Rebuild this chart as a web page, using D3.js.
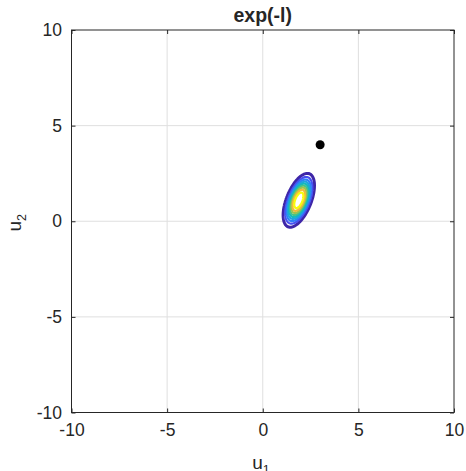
<!DOCTYPE html>
<html>
<head>
<meta charset="utf-8">
<script src="https://cdn.jsdelivr.net/npm/d3@7"></script>
<style>
  body { margin: 0; background: #fff; }
  text { font-family: "Liberation Sans", Arial, Helvetica, sans-serif; fill: #262626; }
</style>
</head>
<body>
<script>
// axis ticks
var xTicks = [-10, -5, 0, 5, 10];
var yTicks = [-10, -5, 0, 5, 10];
var xDomain = [-10, 10];
var yDomain = [-10, 10];

// exp(-l) bump
var peakCenter = [1.885, 1.095]; // u1, u2
var peakScale = [1.071, 0.462];  // along major, minor axis
var peakShape = 2.5;             // l = rho^shape
var peakTiltDeg = 22;            // major axis, from vertical towards +u1
var levels = [0.1, 0.2, 0.3, 0.4, 0.5, 0.6, 0.7, 0.8, 0.9];

// the black point
var pointU1 = [3];
var pointU2 = [4];

// parula-like colormap
var parulaStops = ["#3e26a8", "#4750f0", "#2f7ff8", "#1fa2e0", "#12b8c0",
                   "#43c38a", "#9ac451", "#f2ba3a", "#f9fb0e"];

var w = 466, h = 471;
var mLeft = 71.5, mRight = 454, mTop = 30, mBottom = 412.5;

var svg = d3.select("body").append("svg")
    .attr("width", w)
    .attr("height", h);

var x = d3.scaleLinear().domain(xDomain).range([mLeft, mRight]);
var y = d3.scaleLinear().domain(yDomain).range([mBottom, mTop]);

//grid
svg.append("g").selectAll("line").data(xTicks.slice(1, -1)).enter().append("line")
    .attr("x1", d => x(d)).attr("x2", d => x(d))
    .attr("y1", mTop).attr("y2", mBottom)
    .attr("stroke", "#dfdfdf").attr("stroke-width", 1);
svg.append("g").selectAll("line").data(yTicks.slice(1, -1)).enter().append("line")
    .attr("y1", d => y(d)).attr("y2", d => y(d))
    .attr("x1", mLeft).attr("x2", mRight)
    .attr("stroke", "#dfdfdf").attr("stroke-width", 1);

// sample the field on a grid
var step = 0.04;
var nx = Math.round((xDomain[1] - xDomain[0]) / step) + 1;
var ny = Math.round((yDomain[1] - yDomain[0]) / step) + 1;
var th = peakTiltDeg * Math.PI / 180;
var ma = [Math.sin(th), Math.cos(th)];   // major axis direction
var mi = [Math.cos(th), -Math.sin(th)];  // minor axis direction
var values = new Float64Array(nx * ny);
for (var j = 0; j < ny; j++) {
    var v = yDomain[0] + j * step - peakCenter[1];
    for (var i = 0; i < nx; i++) {
        var u = xDomain[0] + i * step - peakCenter[0];
        var a = (u * ma[0] + v * ma[1]) / peakScale[0];
        var b = (u * mi[0] + v * mi[1]) / peakScale[1];
        values[j * nx + i] = Math.exp(-Math.pow(a * a + b * b, peakShape / 2));
    }
}

var contours = d3.contours().size([nx, ny]).thresholds(levels)(values);

var gridToPx = d3.geoTransform({
    point: function (gx, gy) {
        this.stream.point(x(xDomain[0] + (gx - 0.5) * step), y(yDomain[0] + (gy - 0.5) * step));
    }
});
var path = d3.geoPath(gridToPx);

var color = d3.scaleLinear()
    .domain(parulaStops.map((c, k) => levels[0] + k * (levels[levels.length - 1] - levels[0]) / (parulaStops.length - 1)))
    .range(parulaStops);

svg.append("g").selectAll("path").data(contours).enter().append("path")
    .attr("d", path)
    .attr("fill", "none")
    .attr("stroke", d => color(d.value))
    .attr("stroke-width", (d, k) => k === 0 ? 3 : 2.2);

svg.append("g").selectAll("circle").data(pointU1).enter().append("circle")
    .attr("cx", (d, k) => x(d))
    .attr("cy", (d, k) => y(pointU2[k]))
    .attr("r", 4.5)
    .attr("fill", "#000");

// axes, ticks inside
var fmt = d => String(d);
svg.append("g").attr("transform", "translate(0," + mBottom + ")")
    .call(d3.axisBottom(x).tickValues(xTicks).tickSize(-4).tickPadding(11.5).tickFormat(fmt));
svg.append("g").attr("transform", "translate(0," + mTop + ")")
    .call(d3.axisTop(x).tickValues(xTicks).tickSize(-4).tickFormat(""));
svg.append("g").attr("transform", "translate(" + mLeft + ",0)")
    .call(d3.axisLeft(y).tickValues(yTicks).tickSize(-4).tickPadding(9.5).tickFormat(fmt));
svg.append("g").attr("transform", "translate(" + mRight + ",0)")
    .call(d3.axisRight(y).tickValues(yTicks).tickSize(-4).tickFormat(""));

svg.selectAll(".domain").remove();
svg.selectAll(".tick line").attr("stroke", "#262626");
svg.selectAll(".tick text").attr("font-size", "17.5px").attr("fill", "#262626")
    .attr("font-family", "'Liberation Sans', Arial, sans-serif");

svg.append("rect")
    .attr("x", mLeft).attr("y", mTop)
    .attr("width", mRight - mLeft).attr("height", mBottom - mTop)
    .attr("fill", "none").attr("stroke", "#262626").attr("stroke-width", 1);

// title and labels
svg.append("text")
    .attr("x", (mLeft + mRight) / 2).attr("y", 22)
    .attr("text-anchor", "middle")
    .attr("font-size", "19.5px").attr("font-weight", "bold")
    .attr("fill", "#000")
    .text("exp(-l)");

var xl = svg.append("text")
    .attr("x", 261).attr("y", 469)
    .attr("text-anchor", "middle")
    .attr("font-size", "19px");
xl.append("tspan").text("u");
xl.append("tspan").attr("dy", 4.5).attr("font-size", "12.5px").text("1");

var yl = svg.append("text")
    .attr("transform", "translate(21,222.7) rotate(-90)")
    .attr("text-anchor", "middle")
    .attr("font-size", "19px");
yl.append("tspan").text("u");
yl.append("tspan").attr("dy", 4.5).attr("font-size", "12.5px").text("2");
</script>
</body>
</html>
